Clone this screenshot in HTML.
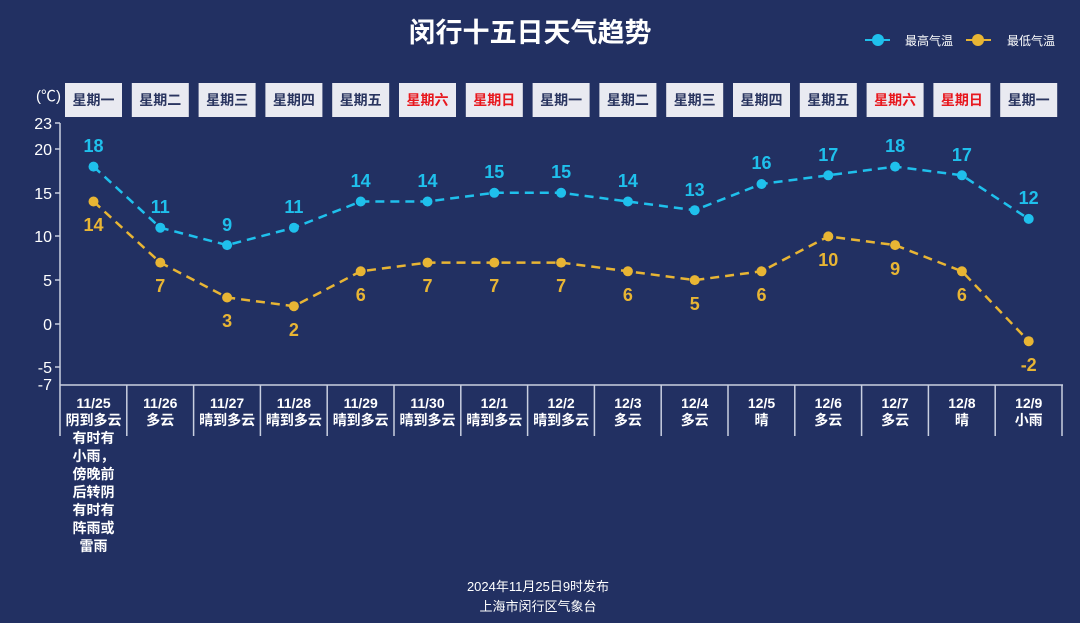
<!DOCTYPE html><html><head><meta charset="utf-8"><style>
body{margin:0;background:#223062;}
svg{display:block;font-family:"Liberation Sans","Noto Sans CJK SC",sans-serif}
</style></head><body>
<svg width="1080" height="623" viewBox="0 0 1080 623">
<rect width="1080" height="623" fill="#223062"/>
<text x="530" y="42" fill="#fff" font-size="27" font-weight="bold" text-anchor="middle">闵行十五日天气趋势</text>
<line x1="865" y1="40" x2="890" y2="40" stroke="#1fc0ec" stroke-width="2"/><circle cx="878" cy="40" r="6" fill="#1fc0ec"/>
<text x="905" y="45" fill="#fff" font-size="12">最高气温</text>
<line x1="966" y1="40" x2="991" y2="40" stroke="#e8b534" stroke-width="2"/><circle cx="978" cy="40" r="6" fill="#e8b534"/>
<text x="1007" y="45" fill="#fff" font-size="12">最低气温</text>
<text x="36" y="101" fill="#fff" font-size="15">(℃)</text>
<g font-size="14" font-weight="bold" text-anchor="middle">
<rect x="65" y="83" width="57" height="34" fill="#e9eaf1"/><text x="93.5" y="105" fill="#2a3560">星期一</text>
<rect x="131.8" y="83" width="57" height="34" fill="#e9eaf1"/><text x="160.3" y="105" fill="#2a3560">星期二</text>
<rect x="198.6" y="83" width="57" height="34" fill="#e9eaf1"/><text x="227.1" y="105" fill="#2a3560">星期三</text>
<rect x="265.4" y="83" width="57" height="34" fill="#e9eaf1"/><text x="293.9" y="105" fill="#2a3560">星期四</text>
<rect x="332.2" y="83" width="57" height="34" fill="#e9eaf1"/><text x="360.7" y="105" fill="#2a3560">星期五</text>
<rect x="399" y="83" width="57" height="34" fill="#e9eaf1"/><text x="427.5" y="105" fill="#e8171d">星期六</text>
<rect x="465.8" y="83" width="57" height="34" fill="#e9eaf1"/><text x="494.3" y="105" fill="#e8171d">星期日</text>
<rect x="532.6" y="83" width="57" height="34" fill="#e9eaf1"/><text x="561.1" y="105" fill="#2a3560">星期一</text>
<rect x="599.4" y="83" width="57" height="34" fill="#e9eaf1"/><text x="627.9" y="105" fill="#2a3560">星期二</text>
<rect x="666.2" y="83" width="57" height="34" fill="#e9eaf1"/><text x="694.7" y="105" fill="#2a3560">星期三</text>
<rect x="733" y="83" width="57" height="34" fill="#e9eaf1"/><text x="761.5" y="105" fill="#2a3560">星期四</text>
<rect x="799.8" y="83" width="57" height="34" fill="#e9eaf1"/><text x="828.3" y="105" fill="#2a3560">星期五</text>
<rect x="866.6" y="83" width="57" height="34" fill="#e9eaf1"/><text x="895.1" y="105" fill="#e8171d">星期六</text>
<rect x="933.4" y="83" width="57" height="34" fill="#e9eaf1"/><text x="961.9" y="105" fill="#e8171d">星期日</text>
<rect x="1000.2" y="83" width="57" height="34" fill="#e9eaf1"/><text x="1028.7" y="105" fill="#2a3560">星期一</text>
</g>
<g stroke="#c9cfe0" stroke-width="1.5">
<line x1="60" y1="123" x2="60" y2="436"/>
<line x1="60" y1="385" x2="1063" y2="385"/>
<line x1="55" y1="123" x2="60" y2="123"/><line x1="55" y1="149" x2="60" y2="149"/><line x1="55" y1="193" x2="60" y2="193"/><line x1="55" y1="236" x2="60" y2="236"/><line x1="55" y1="280" x2="60" y2="280"/><line x1="55" y1="324" x2="60" y2="324"/><line x1="55" y1="367" x2="60" y2="367"/>
<line x1="126.8" y1="385" x2="126.8" y2="436"/><line x1="193.6" y1="385" x2="193.6" y2="436"/><line x1="260.4" y1="385" x2="260.4" y2="436"/><line x1="327.2" y1="385" x2="327.2" y2="436"/><line x1="394" y1="385" x2="394" y2="436"/><line x1="460.8" y1="385" x2="460.8" y2="436"/><line x1="527.6" y1="385" x2="527.6" y2="436"/><line x1="594.4" y1="385" x2="594.4" y2="436"/><line x1="661.2" y1="385" x2="661.2" y2="436"/><line x1="728" y1="385" x2="728" y2="436"/><line x1="794.8" y1="385" x2="794.8" y2="436"/><line x1="861.6" y1="385" x2="861.6" y2="436"/><line x1="928.4" y1="385" x2="928.4" y2="436"/><line x1="995.2" y1="385" x2="995.2" y2="436"/><line x1="1062" y1="385" x2="1062" y2="436"/>
</g>
<g fill="#fff" font-size="16" text-anchor="end">
<text x="52" y="129">23</text><text x="52" y="155">20</text><text x="52" y="199">15</text><text x="52" y="242">10</text><text x="52" y="286">5</text><text x="52" y="330">0</text><text x="52" y="373">-5</text><text x="52" y="390">-7</text>
</g>
<polyline fill="none" stroke="#1fc0ec" stroke-width="2.5" stroke-dasharray="9,6" points="93.5,166.6 160.3,227.7 227.1,245.1 293.9,227.7 360.7,201.5 427.5,201.5 494.3,192.8 561.1,192.8 627.9,201.5 694.7,210.2 761.5,184 828.3,175.3 895.1,166.6 961.9,175.3 1028.7,218.9"/>
<polyline fill="none" stroke="#e8b534" stroke-width="2.5" stroke-dasharray="9,6" points="93.5,201.5 160.3,262.6 227.1,297.5 293.9,306.2 360.7,271.3 427.5,262.6 494.3,262.6 561.1,262.6 627.9,271.3 694.7,280.1 761.5,271.3 828.3,236.4 895.1,245.1 961.9,271.3 1028.7,341.2"/>
<g fill="#1fc0ec"><circle cx="93.5" cy="166.6" r="5"/><circle cx="160.3" cy="227.7" r="5"/><circle cx="227.1" cy="245.1" r="5"/><circle cx="293.9" cy="227.7" r="5"/><circle cx="360.7" cy="201.5" r="5"/><circle cx="427.5" cy="201.5" r="5"/><circle cx="494.3" cy="192.8" r="5"/><circle cx="561.1" cy="192.8" r="5"/><circle cx="627.9" cy="201.5" r="5"/><circle cx="694.7" cy="210.2" r="5"/><circle cx="761.5" cy="184" r="5"/><circle cx="828.3" cy="175.3" r="5"/><circle cx="895.1" cy="166.6" r="5"/><circle cx="961.9" cy="175.3" r="5"/><circle cx="1028.7" cy="218.9" r="5"/></g>
<g fill="#e8b534"><circle cx="93.5" cy="201.5" r="5"/><circle cx="160.3" cy="262.6" r="5"/><circle cx="227.1" cy="297.5" r="5"/><circle cx="293.9" cy="306.2" r="5"/><circle cx="360.7" cy="271.3" r="5"/><circle cx="427.5" cy="262.6" r="5"/><circle cx="494.3" cy="262.6" r="5"/><circle cx="561.1" cy="262.6" r="5"/><circle cx="627.9" cy="271.3" r="5"/><circle cx="694.7" cy="280.1" r="5"/><circle cx="761.5" cy="271.3" r="5"/><circle cx="828.3" cy="236.4" r="5"/><circle cx="895.1" cy="245.1" r="5"/><circle cx="961.9" cy="271.3" r="5"/><circle cx="1028.7" cy="341.2" r="5"/></g>
<g fill="#1fc0ec" font-size="18" font-weight="bold" text-anchor="middle">
<text x="93.5" y="152">18</text><text x="160.3" y="213">11</text><text x="227.1" y="231">9</text><text x="293.9" y="213">11</text><text x="360.7" y="187">14</text><text x="427.5" y="187">14</text><text x="494.3" y="178">15</text><text x="561.1" y="178">15</text><text x="627.9" y="187">14</text><text x="694.7" y="196">13</text><text x="761.5" y="169">16</text><text x="828.3" y="161">17</text><text x="895.1" y="152">18</text><text x="961.9" y="161">17</text><text x="1028.7" y="204">12</text>
</g>
<g fill="#e8b534" font-size="18" font-weight="bold" text-anchor="middle">
<text x="93.5" y="231">14</text><text x="160.3" y="292">7</text><text x="227.1" y="327">3</text><text x="293.9" y="336">2</text><text x="360.7" y="301">6</text><text x="427.5" y="292">7</text><text x="494.3" y="292">7</text><text x="561.1" y="292">7</text><text x="627.9" y="301">6</text><text x="694.7" y="310">5</text><text x="761.5" y="301">6</text><text x="828.3" y="266">10</text><text x="895.1" y="275">9</text><text x="961.9" y="301">6</text><text x="1028.7" y="371">-2</text>
</g>
<g fill="#fff" font-size="14" font-weight="bold" text-anchor="middle">
<text x="93.5" y="408">11/25</text><text x="93.5" y="425">阴到多云</text><text x="93.5" y="443">有时有</text><text x="93.5" y="461">小雨，</text><text x="93.5" y="479">傍晚前</text><text x="93.5" y="497">后转阴</text><text x="93.5" y="515">有时有</text><text x="93.5" y="533">阵雨或</text><text x="93.5" y="551">雷雨</text>
<text x="160.3" y="408">11/26</text><text x="160.3" y="425">多云</text>
<text x="227.1" y="408">11/27</text><text x="227.1" y="425">晴到多云</text>
<text x="293.9" y="408">11/28</text><text x="293.9" y="425">晴到多云</text>
<text x="360.7" y="408">11/29</text><text x="360.7" y="425">晴到多云</text>
<text x="427.5" y="408">11/30</text><text x="427.5" y="425">晴到多云</text>
<text x="494.3" y="408">12/1</text><text x="494.3" y="425">晴到多云</text>
<text x="561.1" y="408">12/2</text><text x="561.1" y="425">晴到多云</text>
<text x="627.9" y="408">12/3</text><text x="627.9" y="425">多云</text>
<text x="694.7" y="408">12/4</text><text x="694.7" y="425">多云</text>
<text x="761.5" y="408">12/5</text><text x="761.5" y="425">晴</text>
<text x="828.3" y="408">12/6</text><text x="828.3" y="425">多云</text>
<text x="895.1" y="408">12/7</text><text x="895.1" y="425">多云</text>
<text x="961.9" y="408">12/8</text><text x="961.9" y="425">晴</text>
<text x="1028.7" y="408">12/9</text><text x="1028.7" y="425">小雨</text>
</g>
<g fill="#fff" font-size="13" text-anchor="middle">
<text x="538" y="591">2024年11月25日9时发布</text>
<text x="538" y="611">上海市闵行区气象台</text>
</g>
</svg>
</body></html>
